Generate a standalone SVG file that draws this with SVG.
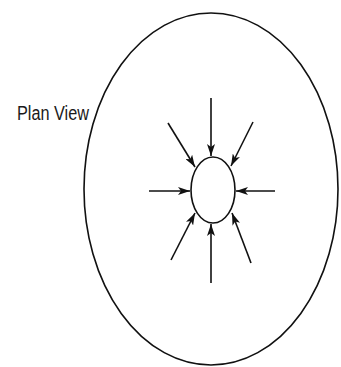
<svg xmlns="http://www.w3.org/2000/svg" width="341" height="367" viewBox="0 0 341 367">
<defs>
<marker id="ah" viewBox="0 0 12 8" refX="12" refY="4" markerWidth="12" markerHeight="8" markerUnits="userSpaceOnUse" orient="auto">
<path d="M0,0 L12,4 L0,8 L3,4 Z" fill="#111"/>
</marker>
<style>
.ln{stroke:#111;stroke-width:1.6;fill:none}
.ar{stroke:#111;stroke-width:1.6;fill:none;marker-end:url(#ah)}
.lbl{font-family:"Liberation Sans",Arial,sans-serif;font-size:20px;fill:#1a1a1a}
</style>
</defs>
<rect width="341" height="367" fill="#fff"/>
<g id="outer"><ellipse class="ln" cx="211" cy="189" rx="127" ry="176"/></g>
<g id="inner"><ellipse class="ln" cx="213" cy="190" rx="22" ry="33"/></g>
<g id="label"><text class="lbl" x="17" y="120" textLength="72" lengthAdjust="spacingAndGlyphs">Plan View</text></g>
<g id="connectors">
<line class="ar" x1="211" y1="98" x2="211" y2="156"/>
<line class="ar" x1="211" y1="283" x2="211" y2="224"/>
<line class="ar" x1="149" y1="191" x2="190" y2="191"/>
<line class="ar" x1="275" y1="191" x2="236" y2="191"/>
<line class="ar" x1="168" y1="123" x2="195" y2="167"/>
<line class="ar" x1="253" y1="122" x2="231" y2="166"/>
<line class="ar" x1="171" y1="260" x2="195" y2="213"/>
<line class="ar" x1="251" y1="263" x2="232" y2="213"/>
</g>
</svg>
